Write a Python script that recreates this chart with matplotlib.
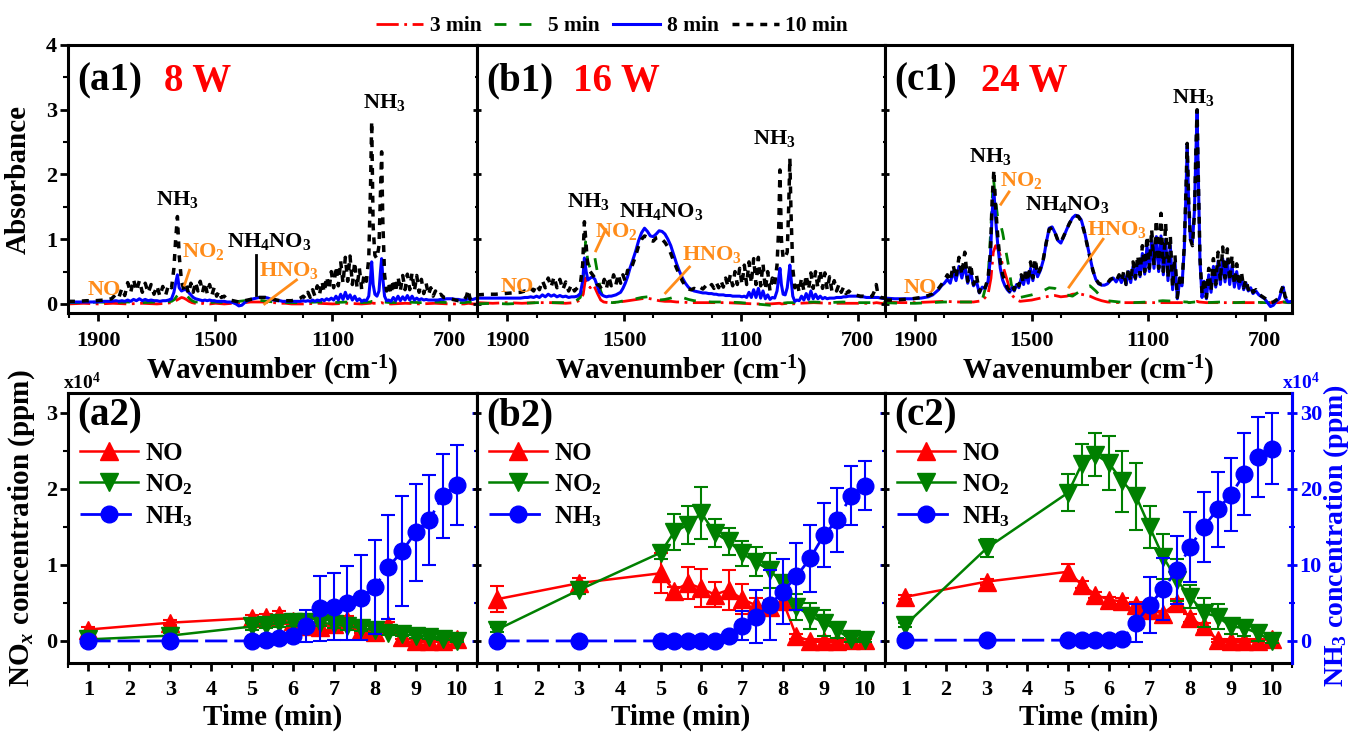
import matplotlib
matplotlib.use('Agg')
import matplotlib.pyplot as plt
from matplotlib.ticker import MultipleLocator

plt.rcParams['font.family'] = ['Liberation Serif', 'DejaVu Serif']
plt.rcParams['font.weight'] = 'bold'
plt.rcParams['axes.labelweight'] = 'bold'
plt.rcParams['mathtext.fontset'] = 'custom'
plt.rcParams['mathtext.rm'] = 'Liberation Serif:bold'
plt.rcParams['mathtext.bf'] = 'Liberation Serif:bold'
plt.rcParams['mathtext.it'] = 'Liberation Serif:bold:italic'
plt.rcParams['axes.linewidth'] = 2.2

# ---------------- FTIR spectra (absorbance vs wavenumber) ----------------
WN_FINE = [2004, 1970, 1940, 1910, 1880, 1855, 1840, 1830, 1820, 1810,
           1800, 1790, 1780, 1770, 1760, 1750, 1740, 1730, 1720, 1710,
           1700, 1690, 1680, 1670, 1660, 1650, 1642, 1636, 1630, 1624,
           1616, 1608, 1600, 1592, 1584, 1576, 1568, 1560, 1552, 1544,
           1536, 1528, 1520, 1512, 1504, 1496, 1488, 1480, 1470, 1460,
           1450, 1440, 1430, 1420, 1410, 1400, 1390, 1380, 1370, 1360,
           1350, 1340, 1330, 1320, 1310, 1300, 1290, 1280, 1270, 1260,
           1250, 1240, 1230, 1220, 1210, 1200, 1192, 1184, 1176, 1168,
           1160, 1152, 1144, 1136, 1128, 1120, 1112, 1104, 1096, 1088,
           1080, 1072, 1064, 1056, 1048, 1040, 1032, 1024, 1016, 1008,
           1000, 992, 984, 976, 970, 966, 961, 955, 948, 941,
           936, 932, 928, 922, 915, 908, 900, 892, 884, 876,
           868, 860, 852, 844, 836, 828, 820, 812, 804, 796,
           788, 780, 772, 764, 756, 748, 740, 730, 720, 710,
           700, 690, 680, 670, 660, 650, 642, 636, 630, 620,
           606]

WN_COARSE = [2004, 1950, 1900, 1850, 1800, 1750, 1700, 1670, 1650, 1640,
             1632, 1624, 1616, 1608, 1600, 1590, 1580, 1570, 1555, 1540,
             1520, 1500, 1470, 1440, 1420, 1400, 1380, 1360, 1340, 1320,
             1300, 1280, 1260, 1240, 1200, 1150, 1100, 1050, 1000, 970,
             966, 960, 940, 932, 925, 900, 850, 800, 750, 700,
             650, 635, 620, 606]

# 8 W
A_3MIN = [0.00, 0.01, 0.00, 0.01, 0.00, 0.01, 0.00, 0.01, 0.02, 0.04,
          0.06, 0.08, 0.10, 0.09, 0.07, 0.04, 0.02, 0.01, 0.00, 0.01,
          0.00, 0.01, 0.00, 0.01, 0.02, 0.02, 0.03, 0.03, 0.03, 0.02,
          0.02, 0.01, 0.01, 0.00, 0.00, 0.01, 0.00, 0.01, 0.00, 0.01,
          0.02, 0.01, 0.01, 0.02, 0.01, 0.00, 0.01, 0.00, 0.01, 0.00,
          0.00, 0.01, 0.00, 0.00]
A_5MIN = [0.02, 0.02, 0.03, 0.02, 0.03, 0.02, 0.03, 0.03, 0.04, 0.07,
          0.12, 0.16, 0.18, 0.17, 0.14, 0.09, 0.05, 0.03, 0.03, 0.02,
          0.02, 0.03, 0.02, 0.03, 0.04, 0.05, 0.05, 0.06, 0.05, 0.04,
          0.03, 0.03, 0.02, 0.02, 0.02, 0.03, 0.02, 0.03, 0.02, 0.03,
          0.04, 0.03, 0.03, 0.04, 0.03, 0.02, 0.03, 0.02, 0.03, 0.02,
          0.02, 0.03, 0.02, 0.02]
A_8MIN = [0.03, 0.03, 0.03, 0.03, 0.04, 0.04, 0.05, 0.04, 0.05, 0.04,
          0.06, 0.04, 0.07, 0.05, 0.08, 0.05, 0.07, 0.05, 0.06, 0.05,
          0.05, 0.04, 0.05, 0.05, 0.06, 0.08, 0.18, 0.32, 0.45, 0.25,
          0.20, 0.22, 0.22, 0.18, 0.14, 0.10, 0.08, 0.07, 0.06, 0.05,
          0.06, 0.05, 0.06, 0.05, 0.05, 0.04, 0.04, 0.04, 0.04, 0.03,
          0.03, 0.02, 0.00, -0.03, -0.02, 0.02, 0.05, 0.07, 0.08, 0.09,
          0.10, 0.10, 0.10, 0.09, 0.07, 0.06, 0.05, 0.05, 0.04, 0.04,
          0.04, 0.04, 0.04, 0.04, 0.04, 0.05, 0.04, 0.05, 0.04, 0.06,
          0.04, 0.06, 0.05, 0.07, 0.05, 0.08, 0.06, 0.09, 0.06, 0.12,
          0.06, 0.15, 0.07, 0.18, 0.08, 0.14, 0.06, 0.12, 0.05, 0.08,
          0.04, 0.06, 0.05, 0.12, 0.40, 0.65, 0.30, 0.15, 0.12, 0.20,
          0.50, 0.70, 0.40, 0.12, 0.05, 0.06, 0.04, 0.10, 0.05, 0.12,
          0.05, 0.11, 0.06, 0.13, 0.06, 0.12, 0.06, 0.09, 0.06, 0.08,
          0.06, 0.07, 0.06, 0.06, 0.06, 0.06, 0.06, 0.07, 0.07, 0.08,
          0.08, 0.08, 0.07, 0.07, 0.06, 0.06, 0.07, 0.08, 0.07, 0.07,
          0.09]
A_10MIN = [0.04, 0.04, 0.05, 0.05, 0.06, 0.08, 0.15, 0.10, 0.24, 0.13,
           0.33, 0.17, 0.38, 0.20, 0.36, 0.18, 0.32, 0.17, 0.30, 0.15,
           0.28, 0.12, 0.27, 0.14, 0.30, 0.25, 0.55, 1.00, 1.35, 0.75,
           0.35, 0.22, 0.30, 0.16, 0.32, 0.18, 0.34, 0.20, 0.35, 0.18,
           0.33, 0.16, 0.30, 0.14, 0.26, 0.12, 0.20, 0.10, 0.12, 0.07,
           0.06, 0.05, 0.04, 0.03, 0.04, 0.05, 0.06, 0.07, 0.08, 0.09,
           0.10, 0.10, 0.10, 0.09, 0.08, 0.07, 0.06, 0.05, 0.05, 0.05,
           0.05, 0.05, 0.06, 0.07, 0.09, 0.12, 0.08, 0.18, 0.10, 0.22,
           0.12, 0.28, 0.15, 0.35, 0.18, 0.42, 0.22, 0.50, 0.25, 0.58,
           0.28, 0.66, 0.32, 0.72, 0.35, 0.74, 0.30, 0.65, 0.25, 0.55,
           0.22, 0.45, 0.35, 0.70, 1.80, 2.82, 1.20, 0.75, 0.70, 0.90,
           1.70, 2.35, 1.30, 0.45, 0.20, 0.32, 0.15, 0.38, 0.18, 0.42,
           0.20, 0.44, 0.22, 0.46, 0.22, 0.48, 0.20, 0.44, 0.18, 0.38,
           0.16, 0.32, 0.14, 0.25, 0.12, 0.20, 0.12, 0.15, 0.10, 0.10,
           0.08, 0.07, 0.06, 0.05, 0.05, 0.06, 0.12, 0.22, 0.08, 0.05,
           0.04]

# 16 W
B_3MIN = [0.02, 0.01, 0.02, 0.01, 0.02, 0.02, 0.01, 0.02, 0.06, 0.15,
          0.40, 0.30, 0.25, 0.30, 0.25, 0.15, 0.06, 0.03, 0.02, 0.02,
          0.03, 0.04, 0.06, 0.08, 0.09, 0.07, 0.05, 0.04, 0.04, 0.03,
          0.03, 0.02, 0.02, 0.02, 0.02, 0.02, 0.01, 0.00, 0.00, 0.01,
          0.01, 0.00, 0.01, 0.02, 0.00, 0.01, 0.02, 0.01, 0.01, 0.01,
          0.01, 0.02, 0.01, 0.01]
B_5MIN = [0.00, 0.01, 0.00, 0.01, 0.02, 0.02, 0.02, 0.03, 0.10, 0.40,
          0.96, 0.65, 0.55, 0.68, 0.71, 0.45, 0.20, 0.08, 0.03, 0.02,
          0.03, 0.05, 0.07, 0.10, 0.11, 0.09, 0.06, 0.07, 0.09, 0.12,
          0.10, 0.07, 0.05, 0.04, 0.03, 0.03, 0.02, 0.00, -0.02, 0.00,
          0.01, 0.01, 0.02, 0.02, 0.02, 0.02, 0.03, 0.02, 0.03, 0.02,
          0.02, 0.03, 0.02, 0.02]
B_8MIN = [0.09, 0.09, 0.09, 0.09, 0.09, 0.09, 0.10, 0.10, 0.11, 0.10,
          0.12, 0.10, 0.14, 0.11, 0.15, 0.12, 0.14, 0.11, 0.13, 0.11,
          0.12, 0.10, 0.11, 0.11, 0.12, 0.16, 0.35, 0.71, 0.50, 0.37,
          0.40, 0.42, 0.38, 0.28, 0.18, 0.14, 0.12, 0.11, 0.12, 0.12,
          0.13, 0.14, 0.16, 0.18, 0.24, 0.32, 0.42, 0.55, 0.68, 0.82,
          0.98, 1.10, 1.17, 1.12, 1.05, 1.04, 1.08, 1.13, 1.12, 1.08,
          1.00, 0.90, 0.76, 0.62, 0.50, 0.40, 0.32, 0.26, 0.22, 0.20,
          0.19, 0.18, 0.17, 0.17, 0.16, 0.16, 0.15, 0.15, 0.14, 0.14,
          0.14, 0.13, 0.13, 0.13, 0.12, 0.12, 0.12, 0.12, 0.11, 0.12,
          0.10, 0.18, 0.10, 0.22, 0.10, 0.24, 0.09, 0.20, 0.08, 0.14,
          0.07, 0.10, 0.09, 0.20, 0.40, 0.55, 0.30, 0.15, 0.14, 0.25,
          0.45, 0.60, 0.40, 0.12, 0.04, 0.06, 0.05, 0.12, 0.06, 0.16,
          0.07, 0.20, 0.08, 0.15, 0.08, 0.12, 0.08, 0.10, 0.08, 0.09,
          0.09, 0.09, 0.10, 0.10, 0.10, 0.11, 0.11, 0.12, 0.12, 0.12,
          0.12, 0.11, 0.11, 0.10, 0.10, 0.10, 0.10, 0.10, 0.10, 0.09,
          0.08]
B_10MIN = [0.14, 0.15, 0.15, 0.16, 0.17, 0.18, 0.20, 0.19, 0.24, 0.20,
           0.30, 0.22, 0.36, 0.25, 0.40, 0.26, 0.42, 0.25, 0.38, 0.22,
           0.34, 0.20, 0.30, 0.20, 0.25, 0.30, 0.60, 1.27, 0.90, 0.55,
           0.50, 0.45, 0.40, 0.30, 0.28, 0.22, 0.38, 0.25, 0.42, 0.28,
           0.45, 0.30, 0.46, 0.32, 0.45, 0.35, 0.52, 0.50, 0.62, 0.75,
           0.90, 1.00, 1.05, 1.03, 0.98, 0.97, 1.02, 1.03, 1.00, 0.95,
           0.88, 0.78, 0.66, 0.55, 0.45, 0.35, 0.28, 0.23, 0.22, 0.24,
           0.22, 0.26, 0.23, 0.28, 0.24, 0.30, 0.24, 0.33, 0.25, 0.36,
           0.26, 0.40, 0.27, 0.45, 0.28, 0.50, 0.30, 0.55, 0.30, 0.60,
           0.30, 0.65, 0.32, 0.70, 0.30, 0.72, 0.28, 0.62, 0.22, 0.50,
           0.20, 0.40, 0.30, 0.60, 1.20, 2.07, 1.00, 0.70, 0.72, 0.80,
           1.50, 2.25, 1.40, 0.55, 0.25, 0.35, 0.18, 0.40, 0.20, 0.45,
           0.22, 0.48, 0.24, 0.50, 0.25, 0.52, 0.24, 0.48, 0.22, 0.42,
           0.20, 0.36, 0.20, 0.30, 0.18, 0.26, 0.16, 0.20, 0.15, 0.14,
           0.13, 0.12, 0.12, 0.11, 0.11, 0.12, 0.20, 0.30, 0.14, 0.10,
           0.09]

# 24 W
C_3MIN = [0.03, 0.02, 0.02, 0.03, 0.04, 0.03, 0.03, 0.05, 0.15, 0.40,
          0.80, 0.90, 0.85, 0.75, 0.60, 0.45, 0.30, 0.15, 0.07, 0.04,
          0.05, 0.06, 0.09, 0.12, 0.13, 0.11, 0.12, 0.15, 0.16, 0.14,
          0.12, 0.08, 0.05, 0.03, 0.02, 0.02, 0.02, 0.02, 0.02, 0.02,
          0.03, 0.02, 0.03, 0.04, 0.03, 0.02, 0.02, 0.02, 0.02, 0.02,
          0.02, 0.03, 0.02, 0.02]
C_5MIN = [0.02, 0.01, 0.01, 0.02, 0.03, 0.03, 0.03, 0.06, 0.40, 1.20,
          1.97, 1.60, 1.30, 1.25, 1.10, 0.85, 0.60, 0.30, 0.12, 0.10,
          0.12, 0.14, 0.18, 0.25, 0.24, 0.18, 0.14, 0.12, 0.18, 0.25,
          0.28, 0.20, 0.10, 0.05, 0.03, 0.02, 0.03, 0.05, 0.04, 0.03,
          0.03, 0.02, 0.03, 0.03, 0.02, 0.02, 0.03, 0.02, 0.03, 0.02,
          0.02, 0.03, 0.02, 0.02]
C_8MIN = [0.09, 0.08, 0.08, 0.08, 0.09, 0.11, 0.14, 0.18, 0.22, 0.28,
          0.32, 0.38, 0.32, 0.50, 0.36, 0.58, 0.40, 0.60, 0.32, 0.50,
          0.28, 0.35, 0.17, 0.26, 0.24, 0.35, 0.70, 1.40, 1.76, 1.30,
          0.88, 0.55, 0.37, 0.28, 0.22, 0.18, 0.25, 0.20, 0.30, 0.25,
          0.40, 0.30, 0.48, 0.32, 0.55, 0.36, 0.60, 0.42, 0.52, 0.68,
          0.95, 1.17, 1.19, 1.10, 0.98, 0.94, 1.04, 1.15, 1.25, 1.33,
          1.37, 1.36, 1.30, 1.14, 0.93, 0.72, 0.52, 0.38, 0.31, 0.29,
          0.29, 0.31, 0.36, 0.40, 0.34, 0.42, 0.33, 0.46, 0.30, 0.50,
          0.33, 0.58, 0.38, 0.66, 0.42, 0.78, 0.46, 0.90, 0.50, 0.98,
          0.55, 1.04, 0.50, 1.05, 0.45, 1.00, 0.36, 0.90, 0.22, 0.65,
          0.08, 0.35, 0.28, 0.85, 1.75, 2.45, 1.55, 1.00, 0.95, 1.45,
          2.35, 2.95, 2.00, 0.65, 0.10, 0.35, 0.08, 0.45, 0.18, 0.58,
          0.26, 0.66, 0.30, 0.70, 0.34, 0.68, 0.30, 0.60, 0.26, 0.50,
          0.24, 0.42, 0.22, 0.32, 0.20, 0.25, 0.16, 0.20, 0.14, 0.11,
          0.08, 0.02, -0.04, -0.02, 0.04, 0.08, 0.20, 0.26, 0.10, 0.03,
          0.04]
C_10MIN = [0.06, 0.06, 0.07, 0.08, 0.10, 0.13, 0.16, 0.20, 0.24, 0.30,
           0.36, 0.45, 0.35, 0.60, 0.40, 0.72, 0.45, 0.80, 0.35, 0.62,
           0.30, 0.45, 0.18, 0.30, 0.25, 0.40, 0.80, 1.60, 2.07, 1.50,
           1.00, 0.65, 0.45, 0.35, 0.25, 0.20, 0.28, 0.22, 0.35, 0.28,
           0.45, 0.32, 0.55, 0.35, 0.65, 0.40, 0.70, 0.45, 0.55, 0.70,
           0.95, 1.15, 1.18, 1.10, 0.98, 0.95, 1.05, 1.15, 1.25, 1.32,
           1.36, 1.35, 1.28, 1.12, 0.92, 0.72, 0.52, 0.38, 0.32, 0.30,
           0.30, 0.32, 0.38, 0.40, 0.35, 0.45, 0.35, 0.50, 0.30, 0.55,
           0.35, 0.65, 0.40, 0.75, 0.45, 0.90, 0.50, 1.05, 0.55, 1.15,
           0.60, 1.30, 0.55, 1.40, 0.50, 1.25, 0.40, 1.05, 0.25, 0.75,
           0.10, 0.40, 0.30, 0.90, 1.80, 2.48, 1.60, 1.00, 0.90, 1.40,
           2.40, 3.00, 2.00, 0.70, 0.15, 0.40, 0.10, 0.55, 0.20, 0.70,
           0.30, 0.80, 0.35, 0.88, 0.40, 0.85, 0.35, 0.75, 0.30, 0.62,
           0.28, 0.50, 0.25, 0.38, 0.22, 0.28, 0.18, 0.22, 0.15, 0.12,
           0.09, 0.06, 0.02, 0.03, 0.06, 0.10, 0.22, 0.28, 0.12, 0.04,
           0.05]

# ---------------- gas concentrations vs time ----------------
TIME = [1, 3, 5, 5.33, 5.67, 6, 6.33, 6.67, 7, 7.33, 7.67, 8, 8.33, 8.67, 9, 9.33, 9.67, 10]

# NO and NO2 in 1e4 ppm, NH3 in 1e4 ppm on the right axis
A_NO = [0.15, 0.24, 0.30, 0.31, 0.34, 0.26, 0.20, 0.18, 0.22, 0.28, 0.15, 0.12, 0.21, 0.05, 0.00, 0.00, 0.00, 0.03]
A_NO_ERR = [0.03, 0.03, 0.04, 0.04, 0.05, 0.05, 0.05, 0.04, 0.05, 0.05, 0.04, 0.04, 0.04, 0.03, 0.02, 0.02, 0.02, 0.02]
A_NO2 = [0.02, 0.07, 0.19, 0.21, 0.23, 0.25, 0.25, 0.24, 0.22, 0.19, 0.17, 0.14, 0.11, 0.09, 0.07, 0.05, 0.03, 0.00]
A_NO2_ERR = [0.02, 0.03, 0.04, 0.04, 0.05, 0.05, 0.05, 0.05, 0.05, 0.04, 0.04, 0.04, 0.03, 0.03, 0.03, 0.02, 0.02, 0.02]
A_NH3 = [0.0, 0.0, 0.0, 0.1, 0.35, 0.6, 2.0, 4.3, 4.5, 5.0, 5.7, 7.1, 9.7, 11.8, 14.3, 15.9, 19.1, 20.5]
A_NH3_ERR = [0.0, 0.0, 0.0, 0.0, 0.0, 0.0, 2.1, 4.3, 4.4, 4.9, 5.6, 6.2, 6.8, 7.2, 6.4, 5.9, 5.5, 5.3]

B_NO = [0.55, 0.76, 0.89, 0.66, 0.76, 0.69, 0.61, 0.67, 0.55, 0.47, 0.44, 0.52, 0.06, 0.00, 0.00, 0.00, 0.01, 0.01]
B_NO_ERR = [0.17, 0.07, 0.26, 0.05, 0.21, 0.25, 0.17, 0.26, 0.20, 0.10, 0.10, 0.10, 0.03, 0.02, 0.02, 0.02, 0.02, 0.02]
B_NO2 = [0.15, 0.67, 1.16, 1.43, 1.53, 1.68, 1.42, 1.31, 1.15, 1.04, 0.93, 0.76, 0.45, 0.33, 0.24, 0.14, 0.02, 0.01]
B_NO2_ERR = [0.03, 0.05, 0.08, 0.24, 0.25, 0.34, 0.18, 0.18, 0.16, 0.19, 0.23, 0.10, 0.17, 0.17, 0.17, 0.10, 0.04, 0.03]
B_NH3 = [0.0, 0.0, 0.0, 0.0, 0.0, 0.0, 0.05, 0.7, 2.0, 3.2, 4.7, 6.5, 8.5, 10.9, 13.9, 15.9, 19.1, 20.4]
B_NH3_ERR = [0.0, 0.0, 0.0, 0.0, 0.0, 0.0, 0.0, 0.3, 1.9, 3.5, 4.6, 4.3, 4.4, 4.4, 4.2, 4.2, 3.9, 3.2]

C_NO = [0.58, 0.78, 0.91, 0.74, 0.61, 0.54, 0.52, 0.47, 0.41, 0.36, 0.50, 0.30, 0.19, 0.01, 0.00, 0.00, 0.00, 0.03]
C_NO_ERR = [0.03, 0.04, 0.10, 0.05, 0.04, 0.04, 0.04, 0.04, 0.04, 0.04, 0.05, 0.05, 0.05, 0.02, 0.02, 0.02, 0.02, 0.02]
C_NO2 = [0.21, 1.22, 1.95, 2.32, 2.45, 2.34, 2.10, 1.90, 1.50, 1.11, 0.80, 0.58, 0.37, 0.32, 0.19, 0.17, 0.10, 0.00]
C_NO2_ERR = [0.03, 0.12, 0.24, 0.27, 0.28, 0.35, 0.40, 0.44, 0.28, 0.30, 0.28, 0.15, 0.19, 0.16, 0.10, 0.10, 0.10, 0.03]
C_NH3 = [0.1, 0.1, 0.1, 0.1, 0.1, 0.15, 0.2, 2.4, 4.7, 6.8, 9.3, 12.4, 15.0, 17.3, 19.2, 22.0, 24.2, 25.3]
C_NH3_ERR = [0.0, 0.0, 0.0, 0.0, 0.0, 0.0, 0.0, 2.5, 3.7, 4.1, 4.5, 4.6, 4.6, 4.9, 4.8, 5.4, 5.3, 4.7]

PANEL_TAGS = ['a', 'b', 'c']
POWERS = ['8 W', '16 W', '24 W']

RED = '#FF0000'
GREEN = '#008000'
BLUE = '#0000FF'
ORANGE = '#FF8C1A'

W, H = 1349, 732
fig = plt.figure(figsize=(W / 100, H / 100), dpi=100)


def add_px_axes(x0, x1, y0, y1):
    return fig.add_axes([x0 / W, 1 - y1 / H, (x1 - x0) / W, (y1 - y0) / H])


LEFTS = [68, 477, 885]
RIGHTS = [477, 885, 1292]

spectra = [(A_3MIN, A_5MIN, A_8MIN, A_10MIN),
           (B_3MIN, B_5MIN, B_8MIN, B_10MIN),
           (C_3MIN, C_5MIN, C_8MIN, C_10MIN)]

# text labels on the spectra: (wavenumber, absorbance, text, colour, alignment)
peak_labels = [
    [(1630, 1.53, r'NH$_3$', 'black', 'center'), (1879, 0.14, 'NO', ORANGE, 'center'),
     (1613, 0.73, r'NO$_2$', ORANGE, 'left'), (1462, 0.88, r'NH$_4$NO$_3$', 'black', 'left'),
     (1350, 0.43, r'HNO$_3$', ORANGE, 'left'), (997, 3.03, r'NH$_3$', 'black', 'left')],
    [(1694, 1.50, r'NH$_3$', 'black', 'left'), (1924, 0.19, 'NO', ORANGE, 'left'),
     (1598, 1.03, r'NO$_2$', ORANGE, 'left'), (1516, 1.34, r'NH$_4$NO$_3$', 'black', 'left'),
     (1300, 0.68, r'HNO$_3$', ORANGE, 'left'), (1060, 2.47, r'NH$_3$', 'black', 'left')],
    [(1716, 2.19, r'NH$_3$', 'black', 'left'), (1939, 0.17, 'NO', ORANGE, 'left'),
     (1609, 1.82, r'NO$_2$', ORANGE, 'left'), (1523, 1.45, r'NH$_4$NO$_3$', 'black', 'left'),
     (1310, 1.07, r'HNO$_3$', ORANGE, 'left'), (1018, 3.10, r'NH$_3$', 'black', 'left')],
]
# pointer lines: ((wn0, A0), (wn1, A1), colour)
pointers = [
    [((1589, 0.52), (1606, 0.29), ORANGE), ((1223, 0.37), (1332, 0.0), ORANGE),
     ((1363, 0.76), (1363, 0.14), 'black')],
    [((1563, 1.15), (1597, 0.82), ORANGE), ((1276, 0.57), (1358, 0.17), ORANGE)],
    [((1578, 1.73), (1606, 1.54), ORANGE), ((1255, 1.00), (1372, 0.26), ORANGE)],
]

legend_lines = None
for i in range(3):
    ax = add_px_axes(LEFTS[i], RIGHTS[i], 45, 313)
    s3, s5, s8, s10 = spectra[i]
    l3, = ax.plot(WN_COARSE, s3, color=RED, lw=2, ls=(0, (8, 2, 1, 2)), label='3 min')
    l5, = ax.plot(WN_COARSE, s5, color=GREEN, lw=2, ls=(0, (4.3, 4.7)), label='5 min')
    l8, = ax.plot(WN_FINE, s8, color=BLUE, lw=2.2, label='8 min')
    l10, = ax.plot(WN_FINE, s10, color='black', lw=2.5, ls=(0, (2, 2)), label='10 min')
    if legend_lines is None:
        legend_lines = [l3, l5, l8, l10]

    ax.set_xlim(2004, 606)
    ax.set_ylim(-0.14, 4.0)
    ax.xaxis.set_minor_locator(MultipleLocator(200))
    ax.set_xticks([1900, 1500, 1100, 700])
    ax.yaxis.set_major_locator(MultipleLocator(1))
    ax.yaxis.set_minor_locator(MultipleLocator(0.5))
    ax.tick_params(axis='x', which='major', direction='out', length=6, width=2, labelsize=16, pad=7)
    ax.tick_params(axis='x', which='minor', direction='out', length=3.5, width=1.5)
    ydir = 'out' if i == 0 else 'inout'
    ax.tick_params(axis='y', which='major', direction=ydir, length=6, width=2, labelsize=16, pad=2)
    ax.tick_params(axis='y', which='minor', direction=ydir, length=3.5, width=1.5)
    if i > 0:
        ax.tick_params(axis='y', labelleft=False)
    else:
        ax.set_ylabel('Absorbance', fontsize=21, labelpad=10)
    ax.set_xlabel(r'Wavenumber (cm$^{\text{-1}}$)', fontsize=21, labelpad=2)

    ax.text(0.022, 0.83, '(%s1)' % PANEL_TAGS[i], transform=ax.transAxes, fontsize=28, va='baseline')
    ax.text(0.235, 0.83, POWERS[i], transform=ax.transAxes, fontsize=28, color=RED, va='baseline')

    for x, y, s, c, ha in peak_labels[i]:
        ax.text(x, y, s, color=c, fontsize=16, va='baseline', ha=ha)
    for (x0, y0), (x1, y1), c in pointers[i]:
        ax.plot([x0, x1], [y0, y1], color=c, lw=2)

fig.legend(legend_lines, ['3 min', '5 min', '8 min', '10 min'], loc='center',
           bbox_to_anchor=(612 / W, 1 - 26 / H), ncol=4, frameon=False, fontsize=15.5,
           handlelength=2.2, handletextpad=0.3, columnspacing=0.6)

conc = [(A_NO, A_NO_ERR, A_NO2, A_NO2_ERR, A_NH3, A_NH3_ERR),
        (B_NO, B_NO_ERR, B_NO2, B_NO2_ERR, B_NH3, B_NH3_ERR),
        (C_NO, C_NO_ERR, C_NO2, C_NO2_ERR, C_NH3, C_NH3_ERR)]

for i in range(3):
    ax = add_px_axes(LEFTS[i], RIGHTS[i], 393, 663)
    ax2 = ax.twinx()
    no, no_e, no2, no2_e, nh3, nh3_e = conc[i]

    ebar = dict(fmt='none', capsize=5, elinewidth=1.5, capthick=1.5)
    ax.errorbar(TIME, no, yerr=no_e, ecolor=RED, **ebar, zorder=2)
    h_no, = ax.plot(TIME, no, color=RED, lw=1.8, marker='^', markersize=13, label='NO', zorder=3)
    ax.errorbar(TIME, no2, yerr=no2_e, ecolor=GREEN, **ebar, zorder=4)
    h_no2, = ax.plot(TIME, no2, color=GREEN, lw=1.8, marker='v', markersize=13, label=r'NO$_2$', zorder=5)
    ax2.errorbar(TIME, nh3, yerr=nh3_e, ecolor=BLUE, **ebar, zorder=2)
    h_nh3, = ax2.plot(TIME, nh3, color=BLUE, lw=2, ls=(0, (8, 2.5)), marker='o', markersize=12,
                      label=r'NH$_3$', zorder=3)

    ax.set_xlim(0.5, 10.5)
    ax.set_ylim(-0.29, 3.26)
    ax2.set_ylim(-2.9, 32.6)
    ax.xaxis.set_major_locator(MultipleLocator(1))
    ax.xaxis.set_minor_locator(MultipleLocator(0.5))
    ax.yaxis.set_major_locator(MultipleLocator(1))
    ax.yaxis.set_minor_locator(MultipleLocator(0.5))
    ax2.yaxis.set_major_locator(MultipleLocator(10))
    ax2.yaxis.set_minor_locator(MultipleLocator(5))

    ax.tick_params(axis='x', which='major', direction='out', length=6, width=2, labelsize=16, pad=6)
    ax.tick_params(axis='x', which='minor', direction='out', length=3.5, width=1.5)
    ydir = 'out' if i == 0 else 'inout'
    ax.tick_params(axis='y', which='major', direction=ydir, length=6, width=2, labelsize=16, pad=2)
    ax.tick_params(axis='y', which='minor', direction=ydir, length=3.5, width=1.5)
    ax2.tick_params(axis='y', which='major', direction='inout', length=7, width=2, colors=BLUE,
                    labelsize=16, pad=2)
    ax2.tick_params(axis='y', which='minor', direction='inout', length=4, width=1.5, colors=BLUE)
    for side in ['left', 'top', 'bottom']:
        ax2.spines[side].set_visible(False)
    ax2.spines['right'].set_color(BLUE if i == 2 else 'black')

    if i > 0:
        ax.tick_params(axis='y', labelleft=False)
    else:
        ax.set_ylabel(r'NO$_x$ concentration (ppm)', fontsize=21, labelpad=6)
        fig.text(82 / W, 1 - 382 / H, r'x10$^4$', fontsize=14, ha='center', va='center')
    if i < 2:
        ax2.tick_params(axis='y', labelright=False)
    else:
        fig.text(1336 / W, 1 - 536 / H, r'NH$_3$ concentration (ppm)', fontsize=20, color=BLUE,
                 rotation=90, ha='center', va='center')
        fig.text(1301 / W, 1 - 382 / H, r'x10$^4$', fontsize=14, ha='center', va='center', color=BLUE)
    ax.set_xlabel('Time (min)', fontsize=21, labelpad=3)

    ax2.text(0.022, 0.88, '(%s2)' % PANEL_TAGS[i], transform=ax.transAxes, fontsize=28, va='baseline')
    ax2.legend([h_no, h_no2, h_nh3], ['NO', r'NO$_2$', r'NH$_3$'], loc='upper left',
               bbox_to_anchor=(0.03, 0.82), frameon=False, fontsize=18, borderpad=0,
               borderaxespad=0, handlelength=2.3, handletextpad=0.3, labelspacing=0.3)

fig.savefig('out.png', dpi=100)
